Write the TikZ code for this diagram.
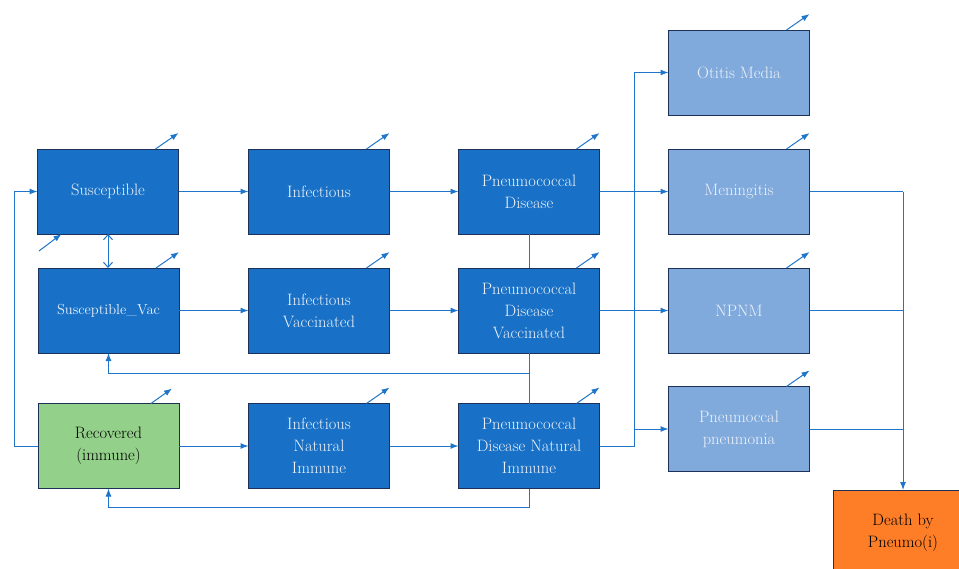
\documentclass[tikz,border=0pt]{standalone}
\usetikzlibrary{arrows.meta}
\definecolor{lineblue}{RGB}{30,117,202}
\definecolor{darkbox}{RGB}{24,113,198}
\definecolor{lightbox}{RGB}{128,170,220}
\definecolor{boxborder}{RGB}{28,48,88}
\definecolor{greenbox}{RGB}{147,208,137}
\definecolor{orangebox}{RGB}{253,126,39}
\definecolor{boxtext}{RGB}{238,242,250}
\tikzset{
  basebox/.style={rectangle, draw=boxborder, line width=1pt, minimum width=141pt, minimum height=85pt,
    align=center, inner sep=2pt, outer sep=0pt, font=\fontsize{16.5}{22}\selectfont},
  darkstate/.style={basebox, fill=darkbox, text=boxtext},
  lightstate/.style={basebox, fill=lightbox, text=boxtext},
  greenstate/.style={basebox, fill=greenbox, text=black},
  orangestate/.style={basebox, fill=orangebox, text=black},
  arr/.style={draw=lineblue, line width=1pt, -{Latex[length=8pt,width=6pt]}},
  conn/.style={draw=lineblue, line width=1pt},
  dbl/.style={draw=lineblue, line width=1pt, {Straight Barb[length=5pt,width=9pt]}-{Straight Barb[length=5pt,width=9pt]}},
}
\begin{document}
\begin{tikzpicture}[x=1pt,y=-1pt]
\useasboundingbox (0,0) rectangle (959,568);
% nodes
\node[darkstate] (S) at (108,191.5) {Susceptible};
\node[darkstate] (I) at (319,191.5) {Infectious};
\node[darkstate] (PD) at (529,191.5) {Pneumococcal\\Disease};
\node[darkstate, font=\fontsize{14.5}{20}\selectfont] (SV) at (108.5,310.5) {Susceptible\_Vac};
\node[darkstate] (IV) at (319,310.5) {Infectious\\Vaccinated};
\node[darkstate] (PDV) at (529,310.5) {Pneumococcal\\Disease\\Vaccinated};
\node[greenstate] (R) at (108.5,446) {Recovered\\(immune)};
\node[darkstate] (INI) at (319,446) {Infectious\\Natural\\Immune};
\node[darkstate] (PDNI) at (529,446) {Pneumococcal\\Disease Natural\\Immune};
\node[lightstate] (OM) at (739,72.5) {Otitis Media};
\node[lightstate] (MEN) at (739,191.5) {Meningitis};
\node[lightstate] (NPNM) at (739,310.5) {NPNM};
\node[lightstate] (PP) at (739,429) {Pneumoccal\\pneumonia};
\node[orangestate, minimum width=140pt] (DTH) at (903,532.5) {Death by\\Pneumo(i)};
% outflow arrows
\foreach \b in {S,I,PD,SV,IV,PDV,INI,PDNI,OM,MEN,NPNM,PP}{
  \draw[arr] ([xshift=-23pt]\b.north east) -- ++(23,-16);
}
\draw[arr] ([xshift=-28pt]R.north east) -- ++(21,-15);
% inflow to susceptible
\coordinate (sin) at (39,251);
\draw[arr] (sin) -- ([xshift=24pt]S.south west);
% main horizontal flows
\draw[arr] (S) -- (I);
\draw[arr] (I) -- (PD);
\draw[arr] (SV) -- (IV);
\draw[arr] (IV) -- (PDV);
\draw[arr] (R.east) -- (INI.west);
\draw[arr] (INI) -- (PDNI);
% S <-> SV
\draw[dbl] (S.south) -- (S.south |- SV.north);
% vertical links among disease boxes
\draw[conn] (PD.south) -- (PDV.north);
\draw[conn] (PDV.south) -- (PDNI.north);
\coordinate (vacret) at (529,373);
\draw[arr] (vacret) -| (SV.south);
\draw[arr] (PDNI.south) -- ++(0,19) -| (R.south);
% recovered back to susceptible
\draw[arr] (R.west) -- ++(-24,0) |- (S.west);
% bus to complications
\coordinate (busbot) at (634,446);
\coordinate (bustop) at (634,72.5);
\draw[conn] (PDNI.east) -- (busbot) -- (bustop);
\draw[arr] (bustop) -- (OM.west);
\draw[arr] (PD.east) -- (MEN.west);
\draw[arr] (PDV.east) -- (NPNM.west);
\draw[arr] (busbot |- PP.west) -- (PP.west);
% to death
\coordinate (dbus) at (903,191.5);
\draw[conn] (MEN.east) -- (dbus);
\draw[arr] (dbus) -- (DTH.north);
\draw[conn] (NPNM.east) -- (dbus |- NPNM.east);
\draw[conn] (PP.east) -- (dbus |- PP.east);
\end{tikzpicture}
\end{document}
